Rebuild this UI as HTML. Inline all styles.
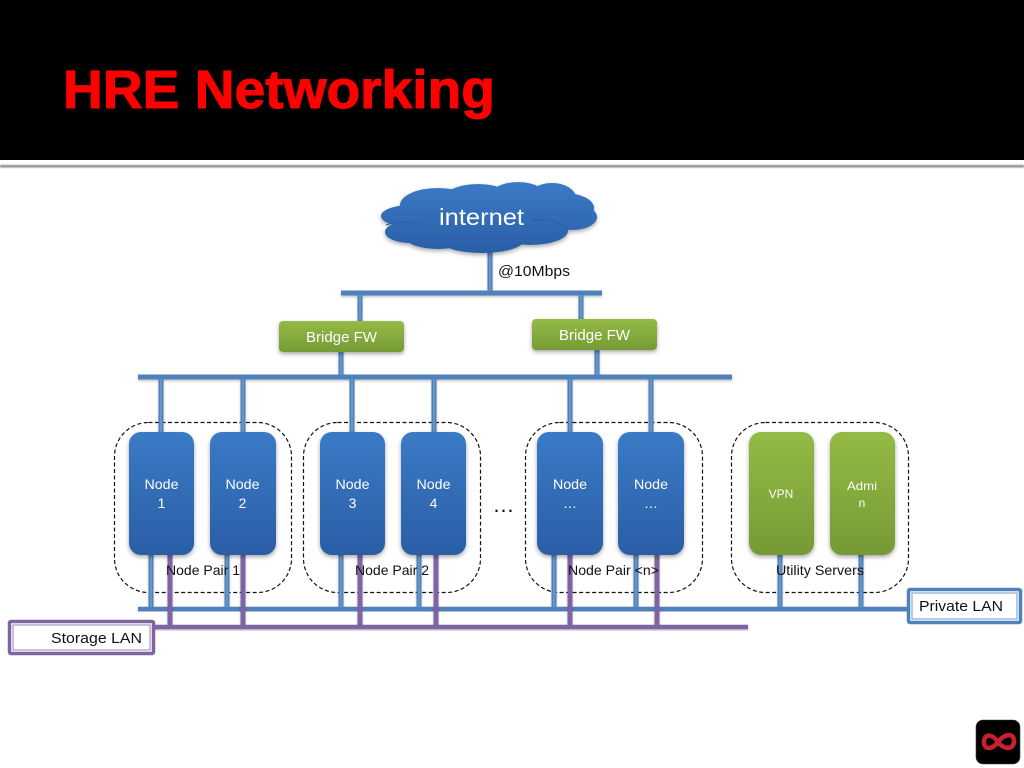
<!DOCTYPE html>
<html><head><meta charset="utf-8"><title>HRE Networking</title>
<style>
html,body{margin:0;padding:0;background:#fff;width:1024px;height:768px;overflow:hidden}
svg{display:block}
text{font-family:"Liberation Sans",sans-serif}
</style></head><body>
<svg width="1024" height="768" viewBox="0 0 1024 768" xmlns="http://www.w3.org/2000/svg">
<defs>
<linearGradient id="b" x1="0" y1="0" x2="0" y2="1"><stop offset="0" stop-color="#3a7ac6"/><stop offset="1" stop-color="#2a5ea6"/></linearGradient>
<linearGradient id="cb" gradientUnits="userSpaceOnUse" x1="0" y1="182" x2="0" y2="254"><stop offset="0" stop-color="#3a7ac6"/><stop offset="1" stop-color="#2a5ea6"/></linearGradient>
<linearGradient id="g" x1="0" y1="0" x2="0" y2="1"><stop offset="0" stop-color="#93bb45"/><stop offset="1" stop-color="#759a35"/></linearGradient>
<filter id="s" x="-20%" y="-20%" width="140%" height="140%"><feDropShadow dx="0" dy="2" stdDeviation="2" flood-color="#000" flood-opacity=".35"/></filter>
<filter id="ls" x="-5%" y="-5%" width="110%" height="110%"><feDropShadow dx="0" dy="1.5" stdDeviation="1.2" flood-color="#000" flood-opacity=".25"/></filter>
<filter id="hl" x="-2%" y="-200%" width="104%" height="500%"><feGaussianBlur stdDeviation="0.8"/></filter>
</defs>

<rect width="1024" height="160" fill="#000"/>
<rect y="160" width="1024" height="5" fill="#fff"/>
<rect y="165" width="1024" height="2.500" fill="#8a8a8a" filter="url(#hl)"/>
<text x="63" y="108" font-size="54" font-weight="bold" fill="#f00" stroke="#f00" stroke-width="1" textLength="432" lengthAdjust="spacingAndGlyphs">HRE Networking</text>

<!-- dashed groups -->
<g fill="none" stroke="#111" stroke-width="1.2" stroke-dasharray="4 2.5">
<rect x="114.500" y="422.500" width="177" height="170" rx="34"/>
<rect x="303.500" y="422.500" width="177" height="170" rx="34"/>
<rect x="525.500" y="422.500" width="177" height="170" rx="34"/>
<rect x="731.500" y="422.500" width="177" height="170" rx="34"/>
</g>

<!-- blue upper links -->
<g stroke="#4f81bd" stroke-width="5" filter="url(#ls)" fill="none">
<path d="M490 250V293M360 293V322M581 293V320M341 352V377M597 350V377"/>
<path d="M161 377V433M243 377V433M352 377V433M434 377V433M570 377V433M651 377V433"/>
<path d="M341 293H602" stroke-width="5"/>
<path d="M138 377H732" stroke-width="5"/>
</g>
<g stroke="#8fb0d8" stroke-width="1" fill="none" opacity=".8">
<path d="M490 250V291M360 295V321M581 295V319M341 352V375M597 350V375M161 379V432M243 379V432M352 379V432M434 379V432M570 379V432M651 379V432"/>
</g>

<!-- lower links -->
<g stroke="#4f81bd" stroke-width="5" filter="url(#ls)" fill="none">
<path d="M151 553V609M227 553V609M341 553V609M419 553V609M554 553V609M636 553V609M780 553V609M861 553V609"/>
<path d="M138 609H908" stroke-width="4.500"/>
</g>
<g stroke="#8fb0d8" stroke-width="1" fill="none" opacity=".8">
<path d="M151 556V607M227 556V607M341 556V607M419 556V607M554 556V607M636 556V607M780 556V607M861 556V607"/>
</g>
<g stroke="#8064a2" stroke-width="5" filter="url(#ls)" fill="none">
<path d="M170 553V627M243 553V627M360 553V627M436 553V627M570 553V627M657 553V627"/>
<path d="M154 627H748" stroke-width="4.500"/>
</g>

<!-- cloud -->
<g filter="url(#s)" fill="url(#cb)">
<ellipse cx="438" cy="205" rx="38" ry="17"/>
<ellipse cx="478" cy="201" rx="36" ry="17"/>
<ellipse cx="518" cy="199" rx="30" ry="17"/>
<ellipse cx="552" cy="198" rx="24" ry="15"/>
<ellipse cx="564" cy="208" rx="30" ry="15"/>
<ellipse cx="572" cy="217" rx="25" ry="13"/>
<ellipse cx="411" cy="216" rx="30" ry="11"/>
<ellipse cx="410" cy="232" rx="25" ry="11"/>
<ellipse cx="438" cy="238" rx="32" ry="11"/>
<ellipse cx="482" cy="240" rx="42" ry="13"/>
<ellipse cx="530" cy="231" rx="38" ry="14"/>
<ellipse cx="490" cy="220" rx="80" ry="24"/>
</g>
<path d="M386 225C400 220 420 222 430 228M568 228C558 221 545 219 532 220" fill="none" stroke="#2a5ea6" stroke-width="1"/>
<text x="481.500" y="225" font-size="23" fill="#fff" text-anchor="middle" textLength="85" lengthAdjust="spacingAndGlyphs">internet</text>
<text x="498" y="276" font-size="15" fill="#111" textLength="72" lengthAdjust="spacingAndGlyphs">@10Mbps</text>

<!-- bridges -->
<g filter="url(#s)" fill="url(#g)">
<rect x="279" y="321" width="125" height="31" rx="4"/>
<rect x="532" y="319" width="125" height="31" rx="4"/>
</g>
<g font-size="15" fill="#fff" text-anchor="middle">
<text x="341.500" y="342" textLength="71" lengthAdjust="spacingAndGlyphs">Bridge FW</text>
<text x="594.500" y="340" textLength="71" lengthAdjust="spacingAndGlyphs">Bridge FW</text>
</g>

<!-- nodes -->
<g filter="url(#s)" fill="url(#b)">
<rect x="129" y="432" width="65" height="123" rx="12"/>
<rect x="210" y="432" width="66" height="123" rx="12"/>
<rect x="320" y="432" width="65" height="123" rx="12"/>
<rect x="401" y="432" width="65" height="123" rx="12"/>
<rect x="537" y="432" width="66" height="123" rx="12"/>
<rect x="618" y="432" width="66" height="123" rx="12"/>
</g>
<g filter="url(#s)" fill="url(#g)">
<rect x="749" y="432" width="65" height="123" rx="12"/>
<rect x="830" y="432" width="65" height="123" rx="12"/>
</g>
<g font-size="14" fill="#fff" text-anchor="middle">
<text x="161.500" y="489" textLength="34" lengthAdjust="spacingAndGlyphs">Node</text><text x="161.500" y="508">1</text>
<text x="242.500" y="489" textLength="34" lengthAdjust="spacingAndGlyphs">Node</text><text x="242.500" y="508">2</text>
<text x="352.500" y="489" textLength="34" lengthAdjust="spacingAndGlyphs">Node</text><text x="352.500" y="508">3</text>
<text x="433.500" y="489" textLength="34" lengthAdjust="spacingAndGlyphs">Node</text><text x="433.500" y="508">4</text>
<text x="570" y="489" textLength="34" lengthAdjust="spacingAndGlyphs">Node</text><text x="570" y="508">…</text>
<text x="651" y="489" textLength="34" lengthAdjust="spacingAndGlyphs">Node</text><text x="651" y="508">…</text>
</g>
<g font-size="12" fill="#fff" text-anchor="middle">
<text x="781" y="498">VPN</text>
<text x="862" y="490" textLength="30" lengthAdjust="spacingAndGlyphs">Admi</text><text x="862" y="507">n</text>
</g>
<text x="503.500" y="512" font-size="22" fill="#111" text-anchor="middle">…</text>

<!-- group labels -->
<g font-size="14" fill="#111">
<text x="166" y="575" textLength="74" lengthAdjust="spacingAndGlyphs">Node Pair 1</text>
<text x="355" y="575" textLength="74" lengthAdjust="spacingAndGlyphs">Node Pair 2</text>
<text x="568" y="575" textLength="91" lengthAdjust="spacingAndGlyphs">Node Pair &lt;n&gt;</text>
<text x="776" y="575" textLength="88" lengthAdjust="spacingAndGlyphs">Utility Servers</text>
</g>

<!-- LAN boxes -->
<rect x="908.500" y="589.500" width="112" height="33" rx="1.500" fill="#fff" stroke="#4f81bd" stroke-width="3.500"/>
<rect x="912" y="593" width="105" height="26" fill="none" stroke="#6f9acb" stroke-width="1"/>
<text x="919" y="611" font-size="15" fill="#111" textLength="84" lengthAdjust="spacingAndGlyphs">Private LAN</text>
<rect x="9.500" y="621.500" width="144" height="32" rx="1.500" fill="#fff" stroke="#8064a2" stroke-width="3.500"/>
<rect x="13" y="625" width="137" height="25" fill="none" stroke="#9580b5" stroke-width="1"/>
<text x="51" y="643" font-size="15" fill="#111" textLength="91" lengthAdjust="spacingAndGlyphs">Storage LAN</text>

<!-- logo -->
<rect x="976" y="720" width="44" height="44" rx="7" fill="#000" stroke="#444" stroke-width=".6"/>
<path d="M998 742C992 733 984 734 984 742C984 750 992 750 998 742C1004 734 1014 732 1014 741C1014 750 1004 750 998 742Z" fill="none" stroke="#c8202e" stroke-width="4.500"/>
</svg>
</body></html>
